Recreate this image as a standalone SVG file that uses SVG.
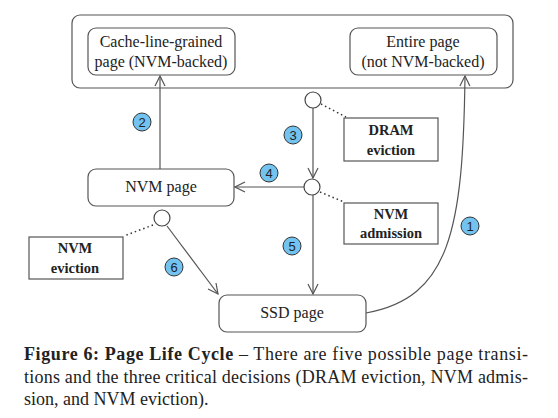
<svg xmlns="http://www.w3.org/2000/svg" width="558" height="418" viewBox="0 0 558 418">
<style>
.box{fill:#fff;stroke:#555;stroke-width:1.2}
.dec{fill:#fff;stroke:#444;stroke-width:1.2}
.t{font-family:"Liberation Serif","Times New Roman","DejaVu Serif",serif;font-size:16px;fill:#222;text-anchor:middle}
.b{font-family:"Liberation Serif","Times New Roman","DejaVu Serif",serif;font-size:14.5px;font-weight:bold;fill:#222;text-anchor:middle}
.ln{fill:none;stroke:#555;stroke-width:1.2}
.dot{fill:none;stroke:#333;stroke-width:1.5;stroke-dasharray:1.5 3}
.badge{fill:#73c3f0;stroke:#333;stroke-width:1}
.bt{font-family:"Liberation Sans",sans-serif;font-size:13px;fill:#222;text-anchor:middle}
.cap{font-family:"Liberation Serif","Times New Roman","DejaVu Serif",serif;font-size:18px;fill:#222}
</style>
<defs>
<marker id="v" viewBox="0 0 12 12" refX="11" refY="6" markerWidth="12" markerHeight="12" markerUnits="userSpaceOnUse" orient="auto">
<path d="M1,1 L11,6 L1,11" fill="none" stroke="#555" stroke-width="1.2"/>
</marker>
</defs>
<g id="dram">
<rect class="box" x="72" y="15" width="441" height="73" rx="8"/>
</g>
<g id="cacheline">
<rect class="box" x="88" y="28" width="147" height="47" rx="8"/>
<text class="t" x="161" y="47">Cache-line-grained</text>
<text class="t" x="161" y="67">page (NVM-backed)</text>
</g>
<g id="entire">
<rect class="box" x="350" y="28" width="147" height="47" rx="8"/>
<text class="t" x="423" y="47">Entire page</text>
<text class="t" x="423" y="67">(not NVM-backed)</text>
</g>
<g id="nvmpage">
<rect class="box" x="88" y="169" width="146" height="37" rx="8"/>
<text class="t" x="161" y="192">NVM page</text>
</g>
<g id="ssdpage">
<rect class="box" x="219" y="295" width="147" height="37" rx="8"/>
<text class="t" x="292" y="318">SSD page</text>
</g>
<g id="dramevict">
<rect class="box" x="344" y="118" width="94" height="43"/>
<text class="b" x="391" y="135">DRAM</text>
<text class="b" x="391" y="155">eviction</text>
</g>
<g id="nvmadmit">
<rect class="box" x="344" y="203" width="94" height="41"/>
<text class="b" x="391" y="219">NVM</text>
<text class="b" x="391" y="238">admission</text>
</g>
<g id="nvmevict">
<rect class="box" x="29" y="237" width="94" height="42"/>
<text class="b" x="75" y="253">NVM</text>
<text class="b" x="75" y="273">eviction</text>
</g>
<g id="connectors">
<line class="ln" x1="160" y1="169" x2="160" y2="76" marker-end="url(#v)"/>
<line class="ln" x1="313" y1="108" x2="313" y2="178" marker-end="url(#v)"/>
<line class="ln" x1="304" y1="187" x2="235" y2="187" marker-end="url(#v)"/>
<line class="ln" x1="313" y1="195" x2="313" y2="294" marker-end="url(#v)"/>
<line class="ln" x1="167" y1="226" x2="218" y2="294" marker-end="url(#v)"/>
<path class="ln" d="M366,313 C450,298 463,230 465,76" marker-end="url(#v)"/>
<line class="dot" x1="321" y1="104" x2="346" y2="117"/>
<line class="dot" x1="320" y1="192" x2="344" y2="202"/>
<line class="dot" x1="153" y1="225" x2="124" y2="236"/>
</g>
<g id="decisions">
<circle class="dec" cx="313" cy="100" r="8"/>
<circle class="dec" cx="312" cy="187" r="8"/>
<circle class="dec" cx="162" cy="218" r="8"/>
</g>
<g id="badges">
<circle class="badge" cx="142" cy="122" r="9"/><text class="bt" x="142" y="126.5">2</text>
<circle class="badge" cx="293" cy="135" r="9"/><text class="bt" x="293" y="139.5">3</text>
<circle class="badge" cx="269" cy="173" r="9"/><text class="bt" x="269" y="177.5">4</text>
<circle class="badge" cx="292" cy="246" r="9"/><text class="bt" x="292" y="250.5">5</text>
<circle class="badge" cx="174" cy="267" r="9"/><text class="bt" x="174" y="271.5">6</text>
<circle class="badge" cx="470" cy="226" r="9"/><text class="bt" x="470" y="230.5">1</text>
</g>
<g id="caption">
<text class="cap" x="24" y="360" textLength="504" lengthAdjust="spacing"><tspan font-weight="bold">Figure 6: Page Life Cycle</tspan> – There are five possible page transi-</text>
<text class="cap" x="24" y="383" textLength="504" lengthAdjust="spacing">tions and the three critical decisions (DRAM eviction, NVM admis-</text>
<text class="cap" x="24" y="405">sion, and NVM eviction).</text>
</g>
</svg>
